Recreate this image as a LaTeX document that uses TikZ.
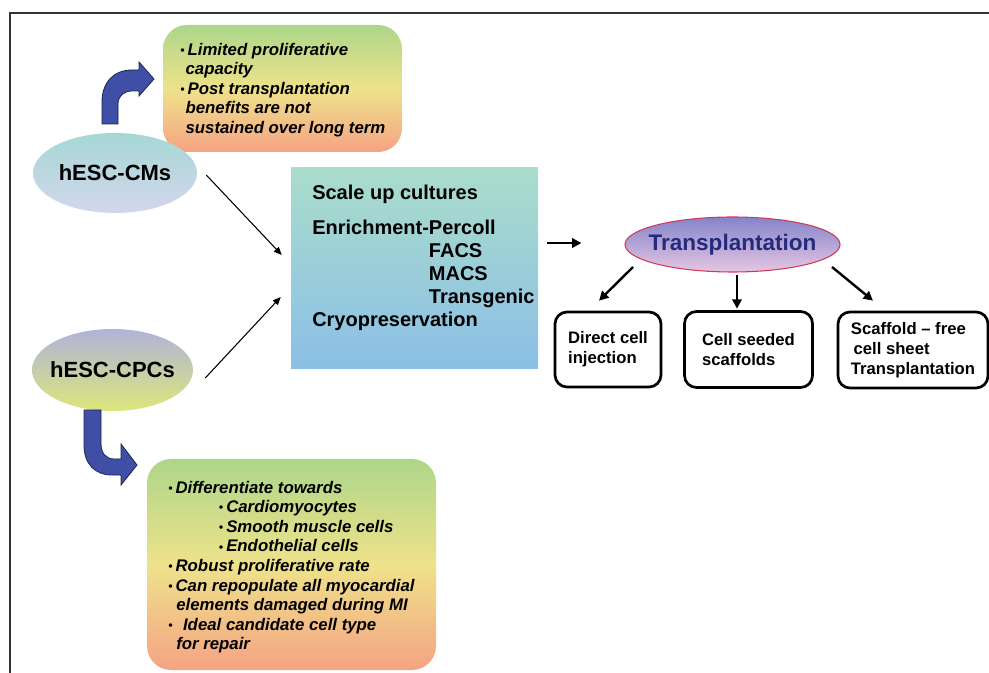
\documentclass[tikz,border=0pt]{standalone}
\usepackage{fontspec}
\setmainfont{Liberation Sans}
\usetikzlibrary{arrows.meta,shapes.geometric}
\definecolor{cgreen}{HTML}{ADD68A}
\definecolor{cyellow}{HTML}{EEE28A}
\definecolor{csalmon}{HTML}{F5A384}
\definecolor{bmint}{HTML}{AADDCB}
\definecolor{bblue}{HTML}{8BBFE6}
\definecolor{cmtop}{HTML}{A6D7D5}
\definecolor{cmbot}{HTML}{D3D7EC}
\definecolor{cptop}{HTML}{B1B3DA}
\definecolor{cpbot}{HTML}{DDE67A}
\definecolor{tptop}{HTML}{8484CA}
\definecolor{tpbot}{HTML}{E6C6E2}
\definecolor{tpedge}{HTML}{D03A5A}
\definecolor{tptext}{HTML}{252B7C}
\definecolor{arrblue}{HTML}{3F4FA6}
\definecolor{arredge}{HTML}{1C2450}
\pgfdeclareverticalshading{callshade}{100bp}{color(0bp)=(csalmon); color(25bp)=(csalmon); color(50bp)=(cyellow); color(75bp)=(cgreen); color(100bp)=(cgreen)}
\newcommand{\bul}{\makebox[5.5pt][l]{\fontsize{9pt}{9pt}\selectfont\raisebox{0.6pt}{•}}}
\begin{document}
\begin{tikzpicture}[x=0.75pt,y=-0.75pt,
  callout/.style={rectangle, rounded corners=18pt, shading=callshade, inner sep=0},
  ctext/.style={anchor=north west, inner sep=0, align=left, font=\bfseries\itshape\fontsize{12.6pt}{14.7pt}\selectfont},
  cell/.style={ellipse, inner sep=0, font=\bfseries\fontsize{16.5pt}{18pt}\selectfont},
  opt/.style={rectangle, rounded corners=9pt, draw=black, line width=2pt, inner sep=0, align=left, font=\bfseries\fontsize{12.5pt}{15pt}\selectfont},
  thinarr/.style={-{Triangle[length=6pt,width=5pt]}, line width=0.8pt},
  thickarr/.style={-{Triangle[length=7pt,width=7pt]}, line width=1.8pt},
  blockarr/.style={fill=arrblue, draw=arredge, line width=0.6pt}]

\useasboundingbox (0,0) rectangle (989,673);
\draw[black!80, line width=1.1pt] (10,673) -- (10,13) -- (989,13);

% callouts
\node[callout, minimum width=179.25pt, minimum height=95.25pt] (limbox) at (282.5,88.5) {};
\node[ctext] (limtext) at (180,42.7) {\bul Limited proliferative\\ \hspace*{4pt}capacity\\ \bul Post transplantation\\ \hspace*{4pt}benefits are not\\ \hspace*{4pt}sustained over long term};

\node[callout, minimum width=216.75pt, minimum height=158.25pt] (probox) at (291.5,564.5) {};
\node[ctext] (protext) at (168,480.7) {\bul Differentiate towards\\
\hspace*{38pt}\bul Cardiomyocytes\\
\hspace*{38pt}\bul Smooth muscle cells\\
\hspace*{38pt}\bul Endothelial cells\\
\bul Robust proliferative rate\\
\bul Can repopulate all myocardial\\
\hspace*{6pt}elements damaged during MI\\
\bul\, Ideal candidate cell type\\
\hspace*{6pt}for repair};

% cells
\node[cell, top color=cmtop, bottom color=cmbot, minimum width=123pt, minimum height=60pt] (cms) at (115,173) {\makebox[0pt]{hESC-CMs}};
\node[cell, top color=cptop, bottom color=cpbot, minimum width=120.75pt, minimum height=61.5pt] (cpcs) at (112.5,370) {\makebox[0pt]{hESC-CPCs}};

% processing box
\node[rectangle, top color=bmint, bottom color=bblue, minimum width=185.25pt, minimum height=150.75pt, inner sep=0] (proc) at (414.5,268.5) {};
\node[anchor=north west, inner sep=0, align=left, font=\bfseries\fontsize{15pt}{17.25pt}\selectfont] (steps) at (312,184.5) {Scale up cultures\\[9pt]
Enrichment-Percoll\\
\hphantom{Enrichment-}FACS\\
\hphantom{Enrichment-}MACS\\
\hphantom{Enrichment-}Transgenic\\
Cryopreservation};

% transplantation
\node[ellipse, inner sep=0, top color=tptop, bottom color=tpbot, draw=tpedge, line width=0.8pt, minimum width=161.25pt, minimum height=41.25pt, text=tptext, font=\bfseries\fontsize{16.9pt}{18pt}\selectfont] (tp) at (732.5,244.5) {\makebox[0pt]{Transplantation}};

\node[opt, minimum width=79.5pt, minimum height=56.25pt] (box1) at (608,349.5) {Direct cell\\injection};
\node[opt, minimum width=96pt, minimum height=57pt] (box2) at (748.5,349.5) {Cell seeded\\scaffolds};
\node[opt, minimum width=112.5pt, minimum height=57pt] (box3) at (913,350) {Scaffold -- free\\\hspace*{2pt}cell sheet\\Transplantation};

% connectors
\draw[thinarr] ([shift={(9,2)}]cms.east) -- ([shift={(-9,-13.5)}]proc.west);
\draw[thinarr] ([shift={(12,8)}]cpcs.east) -- ([shift={(-10,28.5)}]proc.west);
\draw[thickarr] ([shift={(9,-25.5)}]proc.east) -- ([shift={(-43,-1.5)}]tp.west);
\draw[thickarr] ([shift={(-99.5,22.5)}]tp.center) -- ([shift={(-9,-10)}]box1.north);
\draw[thickarr] ([shift={(4.5,2)}]tp.south) -- ([shift={(-11.5,-1.5)}]box2.north);
\draw[thickarr] ([shift={(99.5,22.5)}]tp.center) -- ([shift={(-40,-10)}]box3.north);

% block arrows
\path[blockarr] (102,124) -- (102,102) .. controls (102,82) and (114,70) .. (132,70) -- (139,70) -- (139,62) -- (154,79) -- (139,96) -- (139,91) -- (132,91) .. controls (124,91) and (118,96) .. (118,104) -- (118,124) -- cycle;
\path[blockarr] (84,410) -- (84,445) .. controls (84,464) and (95,475) .. (112,475) -- (121,475) -- (121,485) -- (137,465) -- (121,444) -- (121,459) -- (114,459) .. controls (106,459) and (101,453) .. (101,444) -- (101,410) -- cycle;
\end{tikzpicture}
\end{document}
